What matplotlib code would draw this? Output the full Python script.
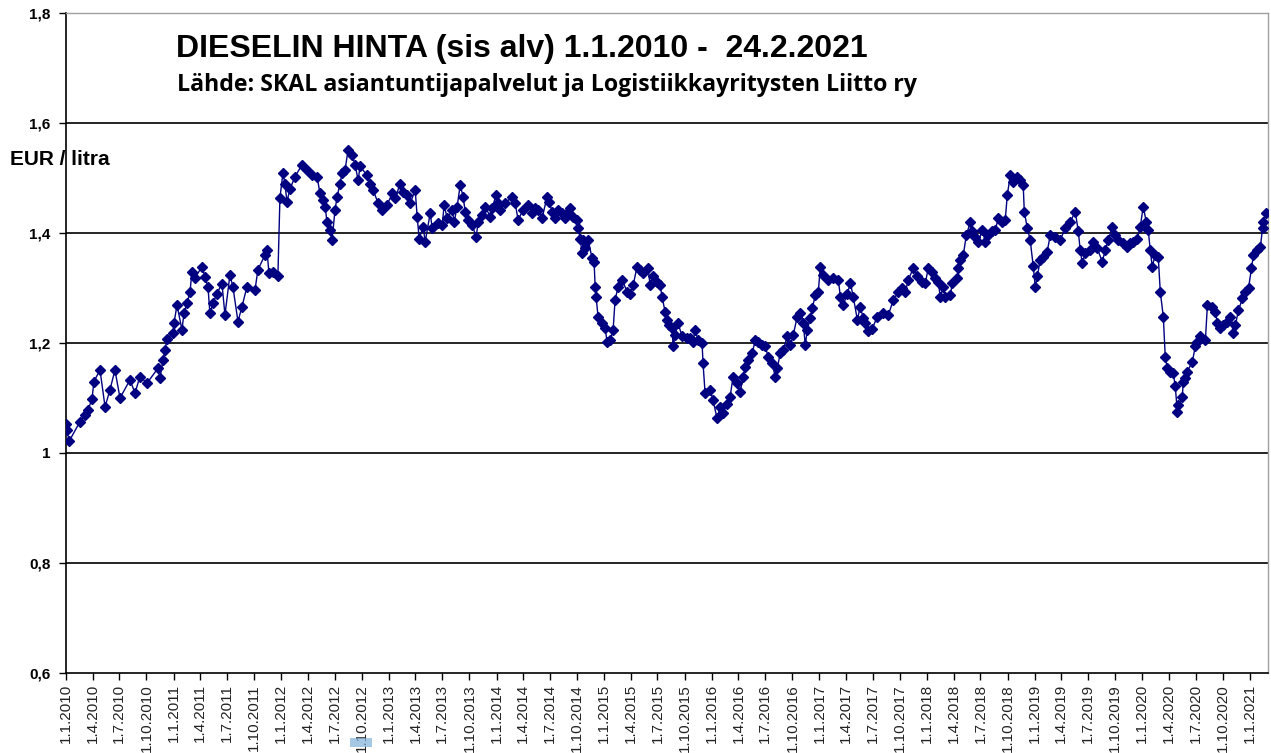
import matplotlib
matplotlib.use("Agg")
import matplotlib.pyplot as plt
from matplotlib.patches import Rectangle
from datetime import datetime, timedelta

# Dieselin hinta (EUR/l, sis. alv), luettu kuvasta; aika desimaalivuosina
vuosi = [
    2010.002, 2010.012, 2010.028, 2010.130, 2010.177, 2010.205, 2010.242, 2010.260, 2010.316, 2010.363,
    2010.409, 2010.455, 2010.502, 2010.595, 2010.641, 2010.688, 2010.753, 2010.855, 2010.874, 2010.902,
    2010.920, 2010.939, 2010.995,
    2011.004, 2011.032, 2011.078, 2011.097, 2011.125, 2011.153, 2011.171, 2011.199, 2011.264, 2011.292,
    2011.320, 2011.338, 2011.366, 2011.403, 2011.450, 2011.478, 2011.524, 2011.552, 2011.599, 2011.636,
    2011.682, 2011.757, 2011.784, 2011.850, 2011.868, 2011.887, 2011.924, 2011.970, 2011.989,
    2012.017, 2012.035, 2012.054, 2012.082, 2012.128, 2012.193, 2012.240, 2012.286, 2012.333, 2012.361,
    2012.389, 2012.407, 2012.426, 2012.454, 2012.472, 2012.500, 2012.519, 2012.547, 2012.565, 2012.593,
    2012.621, 2012.658, 2012.686, 2012.714, 2012.732, 2012.798, 2012.825, 2012.853, 2012.900, 2012.937,
    2012.983,
    2013.030, 2013.058, 2013.104, 2013.132, 2013.169, 2013.197, 2013.244, 2013.262, 2013.281, 2013.318,
    2013.337, 2013.383, 2013.402, 2013.457, 2013.495, 2013.513, 2013.541, 2013.588, 2013.606, 2013.634,
    2013.662, 2013.690, 2013.708, 2013.736, 2013.773, 2013.811, 2013.829, 2013.866, 2013.894, 2013.941,
    2013.959, 2013.996,
    2014.015, 2014.034, 2014.080, 2014.145, 2014.173, 2014.201, 2014.247, 2014.294, 2014.331, 2014.359,
    2014.387, 2014.424, 2014.470, 2014.489, 2014.517, 2014.545, 2014.573, 2014.610, 2014.638, 2014.666,
    2014.684, 2014.712, 2014.749, 2014.759, 2014.777, 2014.796, 2014.805, 2014.824, 2014.852, 2014.889,
    2014.907, 2014.917, 2014.926, 2014.944, 2014.982,
    2015.010, 2015.028, 2015.056, 2015.084, 2015.102, 2015.130, 2015.168, 2015.214, 2015.242, 2015.270,
    2015.307, 2015.335, 2015.363, 2015.409, 2015.428, 2015.456, 2015.493, 2015.521, 2015.539, 2015.567,
    2015.586, 2015.604, 2015.632, 2015.642, 2015.660, 2015.688, 2015.725, 2015.772, 2015.800, 2015.827,
    2015.846, 2015.874, 2015.911, 2015.920, 2015.939, 2015.985,
    2016.013, 2016.050, 2016.078, 2016.106, 2016.143, 2016.171, 2016.199, 2016.236, 2016.264, 2016.292,
    2016.311, 2016.339, 2016.376, 2016.404, 2016.431, 2016.469, 2016.497, 2016.524, 2016.562, 2016.589,
    2016.608, 2016.636, 2016.664, 2016.701, 2016.729, 2016.757, 2016.794, 2016.822, 2016.850, 2016.868,
    2016.887, 2016.915, 2016.933, 2016.961, 2016.989,
    2017.008, 2017.036, 2017.082, 2017.129, 2017.175, 2017.194, 2017.221, 2017.259, 2017.287, 2017.314,
    2017.352, 2017.379, 2017.407, 2017.426, 2017.454, 2017.491, 2017.537, 2017.593, 2017.640, 2017.686,
    2017.733, 2017.770, 2017.798, 2017.826, 2017.872, 2017.909, 2017.956, 2017.984,
    2018.011, 2018.049, 2018.077, 2018.104, 2018.123, 2018.151, 2018.169, 2018.216, 2018.235, 2018.281,
    2018.290, 2018.309, 2018.337, 2018.365, 2018.402, 2018.420, 2018.448, 2018.476, 2018.513, 2018.541,
    2018.569, 2018.606, 2018.634, 2018.662, 2018.699, 2018.727, 2018.746, 2018.774, 2018.801, 2018.839,
    2018.867, 2018.894, 2018.904, 2018.932, 2018.959, 2018.987,
    2019.006, 2019.025, 2019.052, 2019.080, 2019.117, 2019.145, 2019.192, 2019.238, 2019.285, 2019.331,
    2019.378, 2019.406, 2019.424, 2019.443, 2019.471, 2019.517, 2019.545, 2019.582, 2019.629, 2019.657,
    2019.684, 2019.722, 2019.749, 2019.777, 2019.824, 2019.861, 2019.889, 2019.917, 2019.954, 2019.982,
    2020.010, 2020.038, 2020.056, 2020.075, 2020.093, 2020.121, 2020.149, 2020.168, 2020.196, 2020.214,
    2020.233, 2020.261, 2020.289, 2020.307, 2020.326, 2020.335, 2020.372, 2020.381, 2020.400, 2020.419,
    2020.465, 2020.493, 2020.512, 2020.539, 2020.586, 2020.605, 2020.651, 2020.679, 2020.697, 2020.725,
    2020.753, 2020.790, 2020.818, 2020.846, 2020.865, 2020.893, 2020.930, 2020.958, 2020.986,
    2021.013, 2021.032, 2021.069, 2021.097, 2021.116, 2021.125, 2021.153,
]
hinta = [
    1.053, 1.041, 1.021, 1.057, 1.069, 1.078, 1.099, 1.130, 1.151, 1.084,
    1.115, 1.151, 1.100, 1.133, 1.109, 1.139, 1.127, 1.154, 1.136, 1.169,
    1.187, 1.207, 1.218,
    1.236, 1.269, 1.224, 1.254, 1.272, 1.293, 1.330, 1.318, 1.339, 1.320,
    1.302, 1.254, 1.272, 1.290, 1.308, 1.251, 1.324, 1.302, 1.239, 1.266,
    1.302, 1.296, 1.333, 1.360, 1.369, 1.327, 1.330, 1.322, 1.464,
    1.509, 1.490, 1.457, 1.480, 1.502, 1.524, 1.515, 1.505, 1.502, 1.472,
    1.460, 1.448, 1.420, 1.405, 1.387, 1.442, 1.466, 1.490, 1.509, 1.515,
    1.551, 1.542, 1.524, 1.496, 1.521, 1.505, 1.490, 1.478, 1.454, 1.442,
    1.451,
    1.472, 1.463, 1.490, 1.475, 1.469, 1.454, 1.478, 1.430, 1.390, 1.411,
    1.384, 1.436, 1.409, 1.418, 1.415, 1.451, 1.427, 1.442, 1.420, 1.448,
    1.487, 1.466, 1.439, 1.424, 1.415, 1.393, 1.420, 1.433, 1.448, 1.430,
    1.445, 1.469,
    1.454, 1.442, 1.454, 1.466, 1.454, 1.424, 1.442, 1.451, 1.436, 1.445,
    1.442, 1.427, 1.466, 1.457, 1.439, 1.427, 1.442, 1.436, 1.427, 1.439,
    1.445, 1.430, 1.424, 1.409, 1.390, 1.363, 1.387, 1.372, 1.387, 1.354,
    1.348, 1.302, 1.283, 1.248, 1.236,
    1.227, 1.202, 1.205, 1.224, 1.278, 1.302, 1.315, 1.293, 1.290, 1.305,
    1.339, 1.333, 1.327, 1.336, 1.305, 1.321, 1.311, 1.305, 1.284, 1.257,
    1.242, 1.232, 1.227, 1.194, 1.215, 1.236, 1.212, 1.209, 1.209, 1.202,
    1.224, 1.205, 1.200, 1.163, 1.109, 1.115,
    1.096, 1.063, 1.084, 1.072, 1.090, 1.102, 1.139, 1.127, 1.111, 1.139,
    1.157, 1.169, 1.181, 1.205, 1.202, 1.196, 1.194, 1.175, 1.163, 1.139,
    1.154, 1.181, 1.187, 1.212, 1.196, 1.215, 1.248, 1.254, 1.236, 1.196,
    1.224, 1.245, 1.263, 1.287, 1.293,
    1.339, 1.324, 1.315, 1.318, 1.315, 1.284, 1.269, 1.290, 1.309, 1.284,
    1.242, 1.266, 1.245, 1.236, 1.221, 1.226, 1.248, 1.254, 1.251, 1.278,
    1.293, 1.300, 1.293, 1.315, 1.336, 1.321, 1.311, 1.309,
    1.336, 1.330, 1.318, 1.311, 1.284, 1.302, 1.284, 1.287, 1.309, 1.318,
    1.336, 1.351, 1.360, 1.396, 1.420, 1.403, 1.393, 1.384, 1.405, 1.384,
    1.396, 1.403, 1.405, 1.427, 1.420, 1.424, 1.469, 1.505, 1.493, 1.502,
    1.496, 1.487, 1.439, 1.409, 1.387, 1.340,
    1.302, 1.321, 1.351, 1.357, 1.366, 1.396, 1.393, 1.387, 1.409, 1.420,
    1.439, 1.403, 1.369, 1.345, 1.363, 1.369, 1.384, 1.372, 1.348, 1.369,
    1.387, 1.411, 1.396, 1.387, 1.381, 1.375, 1.381, 1.384, 1.390, 1.411,
    1.448, 1.420, 1.405, 1.369, 1.339, 1.360, 1.357, 1.293, 1.248, 1.175,
    1.154, 1.148, 1.145, 1.121, 1.075, 1.087, 1.102, 1.130, 1.136, 1.148,
    1.166, 1.194, 1.202, 1.212, 1.205, 1.269, 1.266, 1.257, 1.236, 1.227,
    1.233, 1.239, 1.248, 1.218, 1.233, 1.260, 1.281, 1.293, 1.300,
    1.336, 1.360, 1.369, 1.375, 1.409, 1.420, 1.437,
]

y_tikit = [0.6, 0.8, 1.0, 1.2, 1.4, 1.6, 1.8]
otsikko = "DIESELIN HINTA (sis alv) 1.1.2010 -  24.2.2021"
lahde = "Lähde: SKAL asiantuntijapalvelut ja Logistiikkayritysten Liitto ry"
yksikko = "EUR / litra"

W, H = 1271, 753
NAVY = "#000080"


def vuosi_pvm(v):
    y = int(v)
    alku = datetime(y, 1, 1)
    pituus = (datetime(y + 1, 1, 1) - alku).days
    return alku + timedelta(days=(v - y) * pituus)


pvm = [vuosi_pvm(v) for v in vuosi]

fig = plt.figure(figsize=(W / 100, H / 100), dpi=100)
ax = fig.add_axes([66 / W, 1 - 673 / H, (1268 - 66) / W, (673 - 13) / H])

for t in y_tikit[1:-1]:
    ax.axhline(t, color="black", lw=1.2, zorder=1)

ax.plot(pvm, hinta, color=NAVY, lw=1, marker="D", ms=5.5,
        mfc=NAVY, mec=NAVY, zorder=3)

ax.set_ylim(0.6, 1.8)
ax.set_yticks(y_tikit)
ax.set_yticklabels(["1" if t == 1.0 else f"{t:.1f}".replace(".", ",") for t in y_tikit],
                   fontfamily="Liberation Sans", fontweight="bold", fontsize=11)

ax.set_xlim(datetime(2010, 1, 1), datetime(2021, 3, 3))
x_tikit = [datetime(y, m, 1) for y in range(2010, 2022) for m in (1, 4, 7, 10)
           if datetime(y, m, 1) <= datetime(2021, 1, 1)]
ax.set_xticks(x_tikit)
ax.set_xticklabels([f"{d.day}.{d.month}.{d.year}" for d in x_tikit], rotation=90,
                   fontfamily="Liberation Sans", fontsize=11, color="#222222")

ax.tick_params(axis="y", length=5, width=1, pad=6, direction="out")
ax.tick_params(axis="x", length=5, width=1, pad=3, direction="out")

for s in ("left", "bottom"):
    ax.spines[s].set_color("black")
    ax.spines[s].set_linewidth(1.2)
for s in ("top", "right"):
    ax.spines[s].set_color("#a0a0a0")
    ax.spines[s].set_linewidth(1)

fig.text(176 / W, 1 - 57 / H, otsikko, fontfamily="Liberation Sans", fontweight="bold",
         fontsize=23, va="baseline", ha="left")
fig.text(177 / W, 1 - 91 / H, lahde, fontfamily="Open Sans", fontweight="bold",
         fontsize=16.7, va="baseline", ha="left")
fig.text(10 / W, 1 - 165 / H, yksikko, fontfamily="Liberation Sans", fontweight="bold",
         fontsize=15, va="baseline", ha="left")

# valintalaatikko x-akselin tekstin kohdalla
fig.patches.append(Rectangle((350 / W, 1 - 747 / H), 22 / W, 9 / H, transform=fig.transFigure,
                             facecolor="#7fb2d9", alpha=0.7, edgecolor="none"))

fig.savefig("out.png", dpi=100)
